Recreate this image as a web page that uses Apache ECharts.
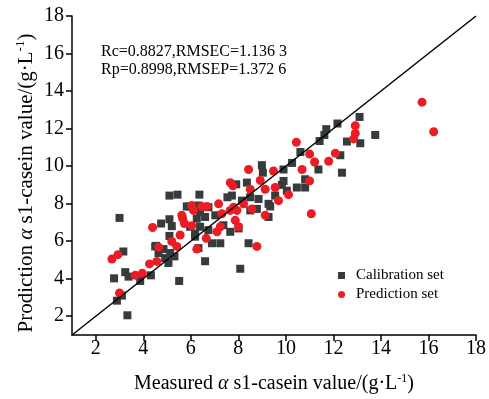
<!DOCTYPE html>
<html>
<head>
<meta charset="utf-8">
<script src="https://cdn.jsdelivr.net/npm/echarts@6/dist/echarts.min.js"></script>
<style>html,body{margin:0;padding:0;background:#fff}#c{width:489px;height:399px}</style>
</head>
<body>
<div id="c"></div>
<script>
var tickValues = [2, 4, 6, 8, 10, 12, 14, 16, 18];
var calibration = [
  [3.0,7.24],[5.10,8.43],[5.44,8.48],[6.36,8.48],[4.75,6.94],[5.10,7.17],[5.20,6.80],[5.10,6.28],[4.54,5.75],[4.85,5.58],
  [3.16,5.45],[3.24,4.35],[3.38,4.11],[2.77,4.02],[2.89,2.83],[3.10,3.10],[3.33,2.05],[5.51,3.88],[4.32,4.18],[3.87,3.88],
  [5.06,4.84],[5.31,5.19],[6.18,6.41],[6.32,5.63],[6.60,4.93],[5.83,7.85],
  [8.99,10.05],[9.03,9.65],[7.91,9.03],[8.36,9.12],[7.54,8.34],[7.73,8.43],[8.15,8.16],[8.50,8.34],[8.85,8.25],
  [9.27,7.99],[8.50,7.64],[8.78,7.72],[9.27,7.29],[5.94,7.85],[6.32,7.90],[6.39,7.55],[6.74,7.81],[7.03,7.38],[6.60,7.29],
  [6.25,7.20],[5.97,6.77],[6.39,6.77],[6.74,6.59],[7.37,6.85],[7.66,6.50],[8.01,6.68],[6.18,6.24],[6.89,5.89],[7.24,5.89],
  [4.50,5.72],[4.64,5.37],[4.92,5.10],[5.13,5.37],[8.08,4.53],[8.43,5.89],
  [13.10,12.62],[12.17,12.27],[11.70,11.97],[11.62,11.66],[11.42,11.34],[12.57,11.31],[13.13,11.22],[13.76,11.66],[12.29,10.58],
  [11.37,9.82],[12.36,9.65],[10.61,10.75],[10.26,10.17],[9.90,9.82],[9.90,9.21],[10.81,9.30],[10.46,8.86],[10.81,8.86],
  [10.04,8.69],[9.83,9.0],[9.55,8.43],[9.34,7.85]
];
var prediction = [
  [2.68,5.05],[2.93,5.28],[3.0,3.24],[3.66,4.18],[3.96,4.29],[4.26,4.79],[4.57,4.92],[4.65,5.68],[4.39,6.73],[5.20,5.98],
  [5.41,5.72],[5.55,6.33],[5.66,7.20],[5.73,6.94],[6.04,6.82],[6.04,7.90],[6.11,7.64],[6.46,7.85],[6.65,6.15],[6.25,5.58],
  [8.43,9.82],[7.66,9.12],[7.77,8.95],[8.50,8.77],[8.92,9.24],[9.13,8.77],[9.55,8.86],[9.69,8.16],[9.48,9.74],[7.80,7.81],
  [7.94,7.64],[7.66,7.64],[8.22,7.99],[7.17,7.99],[6.68,7.85],[5.62,7.38],[7.31,7.46],[7.87,7.11],[8.01,6.77],[7.24,6.77],
  [7.10,6.50],[8.78,5.72],
  [12.92,12.15],[12.92,11.74],[12.85,11.45],[10.44,11.27],[11.0,10.64],[12.08,10.69],[11.80,10.26],[11.21,10.22],[10.68,9.82],
  [11.0,9.21],[10.11,8.48],[8.57,7.72],[9.13,7.38],[11.07,7.46],
  [15.73,13.41],[16.22,11.83]
];
var diagonal = [[1, 1], [18, 18]];
var seriesNames = ['Calibration set', 'Prediction set'];
var statLines = ['Rc=0.8827,RMSEC=1.136 3', 'Rp=0.8998,RMSEP=1.372 6'];
var xTitle = '{n|Measured }{it|α}{n| s1-casein value/(g·L}{sup|-1}{n|)}';
var yTitle = '{n|Prodiction }{it|α}{n| s1-casein value/(g·L}{sup|-1}{n|)}';

var FONT = "'Liberation Serif','Times New Roman',serif";
function makeRich(sz) {
  return {
    n: { fontFamily: FONT, fontSize: sz, color: '#000' },
    it: { fontFamily: FONT, fontSize: sz, fontStyle: 'italic', color: '#000' },
    sup: { fontFamily: FONT, fontSize: Math.round(sz * 0.6), color: '#000', padding: [0, 0, Math.round(sz * 0.5), 0] }
  };
}
function axisCommon(labelMargin) {
  return {
    type: 'value', min: 1, max: 18,
    axisLine: { show: true, onZero: false, lineStyle: { color: '#000', width: 1.5 } },
    axisTick: { show: true, customValues: tickValues, length: 6, inside: false, lineStyle: { color: '#000', width: 1.5 } },
    axisLabel: { customValues: tickValues, margin: labelMargin, color: '#000', fontFamily: FONT, fontSize: 20 },
    splitLine: { show: false }
  };
}
var chart = echarts.init(document.getElementById('c'), null, { renderer: 'canvas' });
var xA = axisCommon(4);
xA.name = xTitle; xA.nameLocation = 'middle'; xA.nameGap = 38;
xA.nameTextStyle = { rich: makeRich(20) };
var yA = axisCommon(8);
chart.setOption({
  backgroundColor: '#fff',
  animation: false,
  grid: { left: 72, right: 13, top: 16, bottom: 59, containLabel: false },
  xAxis: xA,
  yAxis: yA,
  legend: {
    orient: 'vertical', left: 333, top: 263,
    itemWidth: 7, itemHeight: 7, itemGap: 4,
    textStyle: { fontFamily: FONT, fontSize: 15, color: '#000', lineHeight: 15, padding: [0, 0, 0, 6] },
    data: [
      { name: seriesNames[0], icon: 'rect' },
      { name: seriesNames[1], icon: 'circle' }
    ]
  },
  graphic: [
    { type: 'text', left: 101, top: 44, style: { text: statLines[0], font: '16px ' + FONT, fill: '#000' } },
    { type: 'text', left: 101, top: 62, style: { text: statLines[1], font: '16px ' + FONT, fill: '#000' } },
    { type: 'text', x: 26, y: 183, rotation: Math.PI / 2,
      style: { text: yTitle, rich: makeRich(21), align: 'center', verticalAlign: 'middle' } }
  ],
  series: [
    { name: seriesNames[0], type: 'scatter', symbol: 'rect', symbolSize: 8, data: calibration,
      itemStyle: { color: '#363b3b', opacity: 1 }, z: 2 },
    { name: seriesNames[1], type: 'scatter', symbol: 'circle', symbolSize: 9, data: prediction,
      itemStyle: { color: '#ec1c24', opacity: 1 }, z: 3 },
    { name: 'fit', type: 'line', data: diagonal, symbol: 'none', silent: true,
      lineStyle: { color: '#000', width: 1.5 }, z: 5 }
  ]
});
</script>
</body>
</html>
